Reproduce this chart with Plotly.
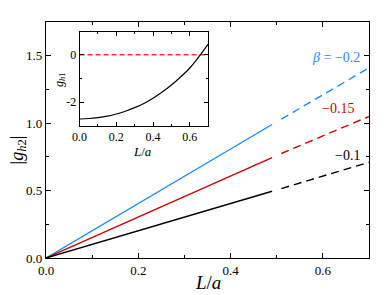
import plotly.graph_objects as go

# Main panel data
x_solid = [0.0, 0.49]
x_dash = [0.51, 0.70]
b02_solid = [0.0, 0.99]
b02_dash = [1.03, 1.41]
b015_solid = [0.0, 0.745]
b015_dash = [0.775, 1.05]
b01_solid = [0.0, 0.495]
b01_dash = [0.515, 0.71]

# Inset data
inset_x = [0.0, 0.05, 0.1, 0.15, 0.2, 0.25, 0.3, 0.35, 0.4, 0.45, 0.5, 0.55, 0.6, 0.65, 0.7]
inset_y = [-2.72, -2.70, -2.66, -2.60, -2.51, -2.39, -2.24, -2.06, -1.84, -1.58, -1.28, -0.94, -0.56, -0.08, 0.45]
inset_zero_x = [0.0, 0.7]
inset_zero_y = [0.0, 0.0]

BLUE = "#1a8cff"
RED = "#cc0000"
BLACK = "#000000"
FONT = "Liberation Serif"

fig = go.Figure()

for ys, yd, c in [(b02_solid, b02_dash, BLUE), (b015_solid, b015_dash, RED), (b01_solid, b01_dash, BLACK)]:
    fig.add_trace(go.Scatter(x=x_solid, y=ys, mode="lines", line=dict(color=c, width=1.4),
                             xaxis="x", yaxis="y", showlegend=False))
    fig.add_trace(go.Scatter(x=x_dash, y=yd, mode="lines", line=dict(color=c, width=1.4, dash="8px,5px"),
                             xaxis="x", yaxis="y", showlegend=False))

fig.add_trace(go.Scatter(x=inset_zero_x, y=inset_zero_y, mode="lines",
                         line=dict(color="#ff3030", width=1.4, dash="5px,3px"),
                         xaxis="x2", yaxis="y2", showlegend=False))
fig.add_trace(go.Scatter(x=inset_x, y=inset_y, mode="lines", line=dict(color=BLACK, width=1.2, shape="spline"),
                         xaxis="x2", yaxis="y2", showlegend=False))

axis_common = dict(showgrid=False, zeroline=False, showline=True, linecolor="black", linewidth=1.2,
                   mirror="allticks", ticks="inside", ticklen=5, tickcolor="black", tickwidth=1,
                   automargin=False,
                   tickfont=dict(family=FONT, size=13, color="black"))

inset_common = dict(showgrid=False, zeroline=False, showline=True, linecolor="black", linewidth=1,
                    mirror="allticks", ticks="inside", ticklen=4, tickcolor="black", automargin=False,
                    tickfont=dict(family=FONT, size=12, color="black"))

fig.update_layout(
    width=382, height=287,
    margin=dict(l=38, r=21, t=14, b=37),
    paper_bgcolor="white", plot_bgcolor="white",
    font=dict(family=FONT, color="black"),
    xaxis=dict(**axis_common, range=[0, 0.7], tickvals=[0, 0.2, 0.4, 0.6],
               ticktext=["0.0", "0.2", "0.4", "0.6"],
               minor=dict(dtick=0.1, tick0=0, ticks="inside", ticklen=3, tickcolor="black")),
    yaxis=dict(**axis_common, range=[0, 1.75], tickvals=[0, 0.5, 1.0, 1.5],
               ticktext=["0.0", "0.5", "1.0", "1.5"],
               minor=dict(dtick=0.25, tick0=0, ticks="inside", ticklen=3, tickcolor="black")),
    xaxis2=dict(**inset_common, domain=[0.104, 0.502], anchor="y2", range=[0, 0.7],
                tickvals=[0, 0.2, 0.4, 0.6], ticktext=["0.0", "0.2", "0.4", "0.6"],
                minor=dict(dtick=0.1, tick0=0, ticks="inside", ticklen=2, tickcolor="black")),
    yaxis2=dict(**inset_common, domain=[0.561, 0.956], anchor="x2", range=[-3, 0.95],
                tickvals=[-2, 0], ticktext=["-2", "0"],
                minor=dict(dtick=1, tick0=0, ticks="inside", ticklen=2, tickcolor="black")),
    annotations=[
        dict(x=0.685, y=1.49, xref="x", yref="y", text="<i>β</i> = −0.2", showarrow=False,
             xanchor="right", yanchor="middle", font=dict(family=FONT, size=14, color=BLUE)),
        dict(x=0.672, y=1.11, xref="x", yref="y", text="−0.15", showarrow=False,
             xanchor="right", yanchor="middle", font=dict(family=FONT, size=14, color=RED)),
        dict(x=0.685, y=0.76, xref="x", yref="y", text="−0.1", showarrow=False,
             xanchor="right", yanchor="middle", font=dict(family=FONT, size=14, color=BLACK)),
        # axis titles
        dict(x=0.5, y=-0.102, xref="paper", yref="paper", text="<i>L</i>/<i>a</i>", showarrow=False,
             xanchor="center", yanchor="middle", font=dict(family=FONT, size=19, color=BLACK)),
        dict(x=-0.085, y=0.458, xref="paper", yref="paper", text="|<i>g</i><sub><i>h</i>2</sub>|",
             showarrow=False, textangle=-90, xanchor="center", yanchor="middle",
             font=dict(family=FONT, size=18, color=BLACK)),
        dict(x=0.298, y=0.452, xref="paper", yref="paper", text="<i>L</i>/<i>a</i>", showarrow=False,
             xanchor="center", yanchor="middle", font=dict(family=FONT, size=13, color=BLACK)),
        dict(x=0.043, y=0.754, xref="paper", yref="paper", text="<i>g</i><sub><i>h</i>1</sub>",
             showarrow=False, textangle=-90, xanchor="center", yanchor="middle",
             font=dict(family=FONT, size=12, color=BLACK)),
    ],
)

fig.write_html("out.html")
